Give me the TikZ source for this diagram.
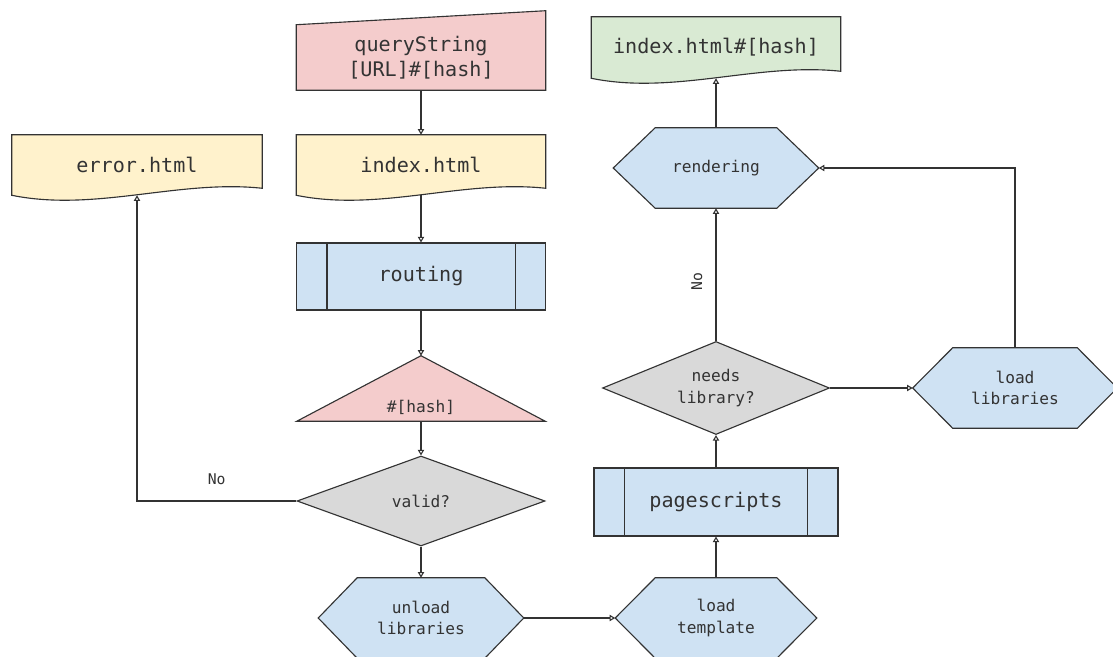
\documentclass[tikz,border=0pt]{standalone}
\usepackage{fontspec}
\setmonofont{DejaVu Sans Mono}
\usetikzlibrary{arrows.meta,calc,backgrounds,shapes.geometric}

\definecolor{pinkfill}{HTML}{F4CCCC}
\definecolor{yellowfill}{HTML}{FFF2CC}
\definecolor{greenfill}{HTML}{D9EAD3}
\definecolor{bluefill}{HTML}{CFE2F3}
\definecolor{grayfill}{HTML}{D9D9D9}
\definecolor{ink}{HTML}{333333}

\newcommand\pxu{0.025cm}

% outlines drawn behind the named nodes
\newcommand\docshape[2]{%
  \draw[shapeline,fill=#2] (#1.north west) -- (#1.north east) -- ($(#1.south east)+(0,-7)$)
    .. controls ($(#1.south west)!2/3!(#1.south east)+(0,-16)$) and ($(#1.south west)!1/3!(#1.south east)+(0,17)$) .. (#1.south west) -- cycle;}
\newcommand\hexshape[2]{%
  \draw[shapeline,fill=bluefill] (#1.west) -- ($(#1.north west)+(#2,0)$) -- ($(#1.north east)+(-#2,0)$)
    -- (#1.east) -- ($(#1.south east)+(-#2,0)$) -- ($(#1.south west)+(#2,0)$) -- cycle;}

\tikzset{
  shapeline/.style={draw=ink, line width=0.8pt},
  bigtext/.style={font=\ttfamily\fontsize{14.3}{17.8}\selectfont, text=ink, align=center},
  smalltext/.style={font=\ttfamily\fontsize{11.5}{15.3}\selectfont, text=ink, align=center},
  labeltext/.style={font=\ttfamily\fontsize{10.5}{12}\selectfont, text=ink},
  boxsize/.style 2 args={rectangle, inner sep=0pt, minimum width=#1*\pxu, minimum height=#2*\pxu},
  flow/.style={draw=ink, line width=0.8pt, -{Triangle[open,length=4pt,width=4.5pt]}},
}

\begin{document}
\begin{tikzpicture}[x=0.025cm, y=-0.025cm]
  \useasboundingbox (0,0) rectangle (1113,657);

  % left column
  \node[bigtext, boxsize={249}{65}] (query) at (421,57.5) {queryString\\{}[URL]\#[hash]};
  \node[bigtext, boxsize={249}{60}] (index) at (421,165) {index.html};
  \node[bigtext, boxsize={250}{60}] (error) at (137,165) {error.html};
  \node[bigtext, boxsize={249}{67}, shapeline, fill=bluefill] (routing) at (421,276.5) {routing};
  \node[smalltext, boxsize={248}{65}, text height=1.275cm, text depth=0.1cm] (hash) at (421,388.5) {\#[hash]};
  \node[smalltext, diamond, aspect=2.75, shapeline, fill=grayfill, inner sep=0pt,
        minimum width=248*\pxu, minimum height=90*\pxu] (valid) at (421,501) {valid?};
  \node[smalltext, boxsize={205}{80}] (unload) at (421,618) {unload\\libraries};

  % right column
  \node[smalltext, boxsize={201}{80}] (template) at (716,618) {load\\template};
  \node[bigtext, boxsize={244}{68}, shapeline, fill=bluefill] (pages) at (716,502) {pagescripts};
  \node[smalltext, diamond, aspect=2.44, shapeline, fill=grayfill, inner sep=0pt,
        minimum width=227*\pxu, minimum height=93*\pxu] (needs) at (716,388) {needs\\library?};
  \node[smalltext, boxsize={204}{80}] (loadlib) at (1015,388) {load\\libraries};
  \node[smalltext, boxsize={205}{80}] (render) at (716,168) {rendering};
  \node[bigtext, boxsize={249}{61}] (result) at (716,47.5) {index.html\#[hash]};

  \begin{scope}[on background layer]
    \draw[shapeline,fill=pinkfill] (query.north west) -- ($(query.north east)+(0,-14)$)
      -- (query.south east) -- (query.south west) -- cycle;
    \docshape{index}{yellowfill}
    \docshape{error}{yellowfill}
    \docshape{result}{greenfill}
    \draw[shapeline,fill=pinkfill] (hash.south west) -- (hash.north) -- (hash.south east) -- cycle;
    \hexshape{unload}{39}
    \hexshape{template}{40}
    \hexshape{loadlib}{40}
    \hexshape{render}{42}
  \end{scope}

  % side bars of the process boxes
  \foreach \n in {routing,pages} {
    \draw[shapeline] ($(\n.north west)+(31,0)$) -- ($(\n.south west)+(31,0)$);
    \draw[shapeline] ($(\n.north east)+(-31,0)$) -- ($(\n.south east)+(-31,0)$);
  }

  % connectors
  \draw[flow] (query.south) -- (index.north);
  \draw[flow] (index.south) -- (routing.north);
  \draw[flow] (routing.south) -- (hash.north);
  \draw[flow] (hash.south) -- (valid.north);
  \draw[flow] (valid.south) -- (unload.north);
  \draw[flow] (valid.west) -| node[pos=0.25, above=8pt, labeltext] {No} (error.south);
  \draw[flow] (unload.east) -- (template.west);
  \draw[flow] (template.north) -- (pages.south);
  \draw[flow] (pages.north) -- (needs.south);
  \draw[flow] (needs.east) -- (loadlib.west);
  \draw[flow] (needs.north) -- node[pos=0.45, sloped, above=6pt, labeltext] {No} (render.south);
  \draw[flow] (loadlib.north) |- (render.east);
  \draw[flow] (render.north) -- (result.south);
\end{tikzpicture}
\end{document}
